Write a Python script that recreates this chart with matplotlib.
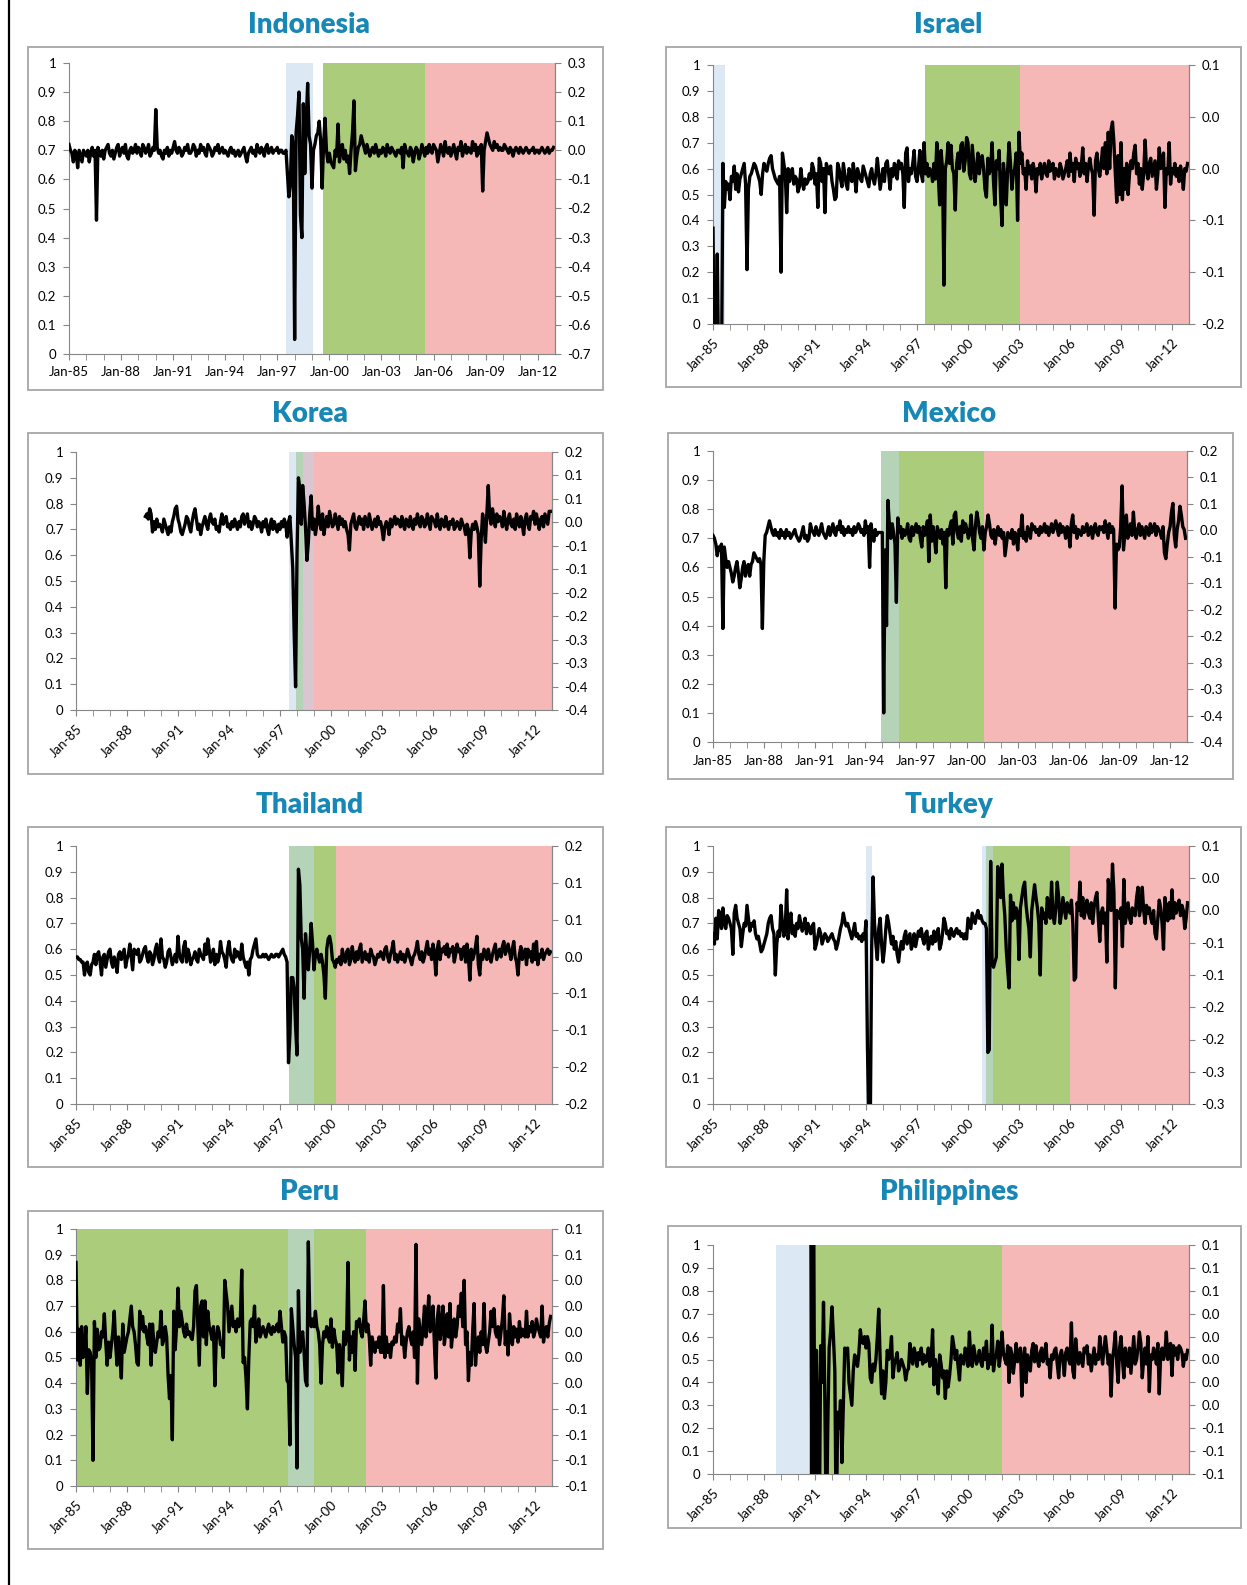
import numpy as np
import matplotlib.pyplot as plt
from matplotlib.patches import Rectangle
from matplotlib.lines import Line2D

plt.rcParams['font.family'] = ['Lato', 'DejaVu Sans']

# monthly values, in hundredths of the left axis (0..1)
indonesia_start = 1985.0
indonesia = [
    72, 70, 69, 66, 70, 69, 64, 70, 68, 66, 70, 69,
    68, 70, 66, 69, 71, 68, 70, 46, 71, 69, 68, 70,
    67, 70, 71, 72, 69, 68, 70, 67, 69, 71, 72, 68,
    70, 71, 69, 72, 68, 67, 70, 71, 69, 70, 72, 69,
    71, 70, 68, 72, 71, 69, 70, 72, 68, 69, 71, 70,
    84, 71, 69, 70, 68, 67, 70, 69, 71, 68, 70, 69,
    71, 73, 70, 69, 71, 70, 68, 69, 71, 70, 72, 69,
    69, 70, 72, 71, 68, 70, 69, 72, 70, 71, 69, 68,
    72, 71, 70, 68, 69, 71, 70, 72, 69, 70, 71, 69,
    70, 69, 68, 70, 71, 69, 70, 68, 69, 70, 68, 69,
    70, 71, 68, 66, 69, 70, 71, 69, 70, 68, 72, 70,
    69, 71, 70, 68, 71, 72, 69, 70, 71, 69, 70, 70,
    71, 69, 70, 70, 69, 69, 70, 62, 54, 58, 75, 72,
    5, 76, 82, 90, 48, 40, 86, 62, 80, 93, 75, 72,
    57, 70, 72, 75, 76, 80, 73, 57, 72, 81, 70, 66,
    69, 66, 65, 64, 70, 68, 79, 66, 70, 72, 67, 70,
    66, 68, 62, 70, 76, 87, 63, 68, 71, 72, 75, 73,
    71, 69, 72, 70, 68, 70, 71, 69, 72, 70, 68, 70,
    69, 71, 70, 68, 72, 70, 69, 71, 70, 69, 68, 70,
    70, 69, 71, 64, 72, 70, 69, 68, 71, 70, 66, 69,
    71, 70, 67, 69, 72, 70, 68, 71, 69, 72, 70, 69,
    72, 71, 70, 66, 69, 72, 70, 68, 73, 70, 69, 71,
    68, 70, 72, 69, 67, 71, 70, 73, 68, 70, 72, 69,
    71, 70, 69, 73, 70, 72, 68, 71, 69, 72, 56, 70,
    73, 76, 74, 72, 71, 70, 73, 71, 72, 70, 71, 70,
    70, 72, 71, 70, 69, 71, 70, 68, 70, 71, 70, 69,
    71, 70, 69, 70, 71, 70, 69, 70, 70, 71, 69, 70,
    70, 69, 70, 71, 70, 69, 70, 71, 69, 70, 70, 71,
]

israel_start = 1985.0
israel = [
    37, -20, -20, 27, -20, -20, -20, 62, 45, 55, 52, 54,
    48, 57, 55, 61, 52, 58, 51, 56, 58, 60, 62, 54,
    21, 52, 57, 58, 60, 62, 61, 59, 57, 55, 50, 58,
    62, 60, 59, 62, 64, 65, 60, 58, 56, 55, 54, 57,
    20, 66, 62, 58, 43, 60, 55, 58, 60, 54, 57, 56,
    51, 53, 60, 55, 52, 56, 54, 55, 58, 56, 62, 60,
    54, 58, 45, 64, 62, 55, 60, 43, 62, 60, 58, 61,
    55, 52, 48, 49, 62, 60, 56, 53, 62, 58, 54, 52,
    60, 58, 55, 62, 57, 51, 60, 58, 56, 55, 61, 59,
    57, 55, 53, 58, 60, 56, 54, 58, 64, 58, 52, 56,
    60, 55, 62, 63, 58, 52, 60, 57, 62, 61, 56, 63,
    60, 62, 58, 45, 66, 68, 55, 60, 58, 62, 67, 57,
    55, 60, 67, 58, 55, 70, 58, 62, 57, 60, 59, 55,
    62, 56, 70, 58, 46, 67, 60, 15, 60, 63, 70, 62,
    69, 60, 58, 44, 62, 66, 60, 69, 70, 59, 63, 72,
    70, 58, 56, 69, 62, 55, 60, 66, 58, 63, 65, 60,
    52, 49, 64, 58, 60, 70, 55, 46, 63, 60, 67, 49,
    38, 62, 56, 46, 60, 70, 62, 52, 58, 60, 66, 40,
    74, 62, 66, 58, 60, 52, 63, 58, 61, 56, 62, 59,
    51, 60, 58, 62, 56, 60, 62, 58, 57, 63, 59, 60,
    62, 56, 60, 58, 57, 62, 60, 56, 58, 60, 63, 57,
    66, 59, 62, 55, 64, 60, 62, 57, 61, 68, 58, 62,
    55, 61, 64, 60, 58, 42, 63, 66, 60, 57, 62, 68,
    60, 70, 58, 74, 60, 75, 78, 70, 58, 47, 65, 50,
    70, 48, 60, 52, 62, 50, 58, 63, 60, 66, 69, 58,
    62, 54, 60, 52, 58, 71, 60, 56, 62, 64, 57, 60,
    63, 52, 58, 68, 60, 62, 66, 45, 60, 58, 70, 54,
    60, 58, 62, 57, 60, 55, 61, 58, 52, 60, 59, 62,
]

korea_start = 1989.0 + 1 / 12
korea = [
    75, 76, 74, 78, 76, 69, 73, 70, 74, 71, 72,
    71, 69, 74, 72, 70, 68, 71, 69, 73, 75, 78, 79,
    74, 72, 69, 68, 70, 72, 75, 74, 71, 69, 73, 76,
    78, 74, 70, 72, 68, 71, 73, 75, 72, 70, 74, 76,
    73, 72, 74, 70, 71, 69, 73, 76, 72, 74, 75, 71,
    72, 70, 73, 71, 74, 72, 70, 73, 71, 75, 76, 72,
    74, 76, 71, 73, 70, 72, 75, 74, 71, 73, 72, 69,
    73, 71, 74, 70, 68, 72, 74, 70, 73, 71, 69, 72,
    70, 73, 71, 74, 72, 67, 73, 75, 65, 55, 30, 9,
    60, 90, 86, 72, 87, 80, 71, 58, 65, 76, 83, 70,
    74, 68, 72, 79, 73, 70, 76, 68, 72, 75, 71, 77,
    74, 71, 72, 76, 73, 70, 75, 72, 74, 71, 73, 70,
    68, 62, 72, 74, 76, 71, 70, 73, 75, 72, 74, 70,
    75, 73, 71, 76, 73, 70, 72, 74, 71, 75, 72, 73,
    70, 66, 71, 73, 72, 68, 74, 71, 73, 75, 72, 74,
    73, 71, 75, 72, 70, 74, 73, 71, 75, 72, 70, 74,
    72, 76, 73, 71, 75, 74, 71, 72, 76, 73, 70, 75,
    74, 73, 71, 76, 72, 70, 74, 73, 71, 75, 72, 70,
    73, 72, 74, 70, 71, 73, 72, 70, 74, 72, 71, 68,
    72, 70, 59, 69, 72, 70, 73, 71, 68, 48, 66, 76,
    72, 65, 76, 87, 75, 72, 78, 74, 71, 76, 73, 75,
    74, 71, 77, 73, 70, 74, 76, 72, 71, 74, 70, 76,
    73, 71, 75, 72, 68, 74, 76, 72, 70, 75, 74, 77,
    72, 76, 73, 70, 74, 75, 71, 76, 74, 72, 77, 77,
]

mexico_start = 1985.0
mexico = [
    71, 70, 68, 64, 67, 66, 68, 39, 67, 63, 60, 62,
    60, 58, 55, 57, 60, 62, 58, 53, 56, 60, 62, 57,
    60, 61, 57, 61, 62, 65, 64, 63, 62, 63, 61, 39,
    62, 71, 72, 74, 76, 74, 72, 71, 73, 71, 72, 70,
    73, 71, 72, 70, 73, 71, 72, 70, 71, 72, 73, 71,
    70, 69, 70, 72, 74, 70, 71, 69, 70, 75, 73, 72,
    71, 74, 72, 71, 73, 75, 72, 71, 70, 72, 74, 71,
    73, 75, 72, 71, 74, 73, 76, 72, 74, 71, 73, 72,
    74, 72, 73, 71, 74, 72, 73, 75, 74, 72, 73, 71,
    76, 72, 74, 60, 75, 71, 69, 73, 71, 72, 72, 72,
    72, 10, 66, 40, 83, 75, 70, 75, 72, 68, 48, 77,
    72, 74, 70, 73, 71, 72, 75, 70, 69, 74, 71, 73,
    75, 72, 74, 70, 67, 74, 71, 73, 76, 62, 78, 69,
    74, 70, 65, 74, 72, 70, 73, 68, 72, 53, 73, 71,
    74, 76, 68, 78, 79, 72, 70, 74, 69, 76, 72, 75,
    73, 70, 72, 78, 70, 66, 74, 79, 76, 72, 70, 74,
    66, 72, 74, 78, 75, 71, 70, 73, 68, 72, 74, 71,
    73, 70, 72, 64, 68, 72, 71, 70, 73, 68, 72, 71,
    66, 73, 71, 78, 70, 72, 69, 74, 72, 70, 75, 73,
    74, 72, 73, 71, 74, 72, 73, 75, 72, 74, 71, 73,
    75, 72, 74, 76, 73, 71, 75, 72, 74, 73, 70, 74,
    73, 67, 75, 78, 72, 74, 70, 73, 72, 71, 74, 72,
    73, 75, 71, 72, 74, 70, 73, 75, 72, 71, 74, 73,
    74, 72, 76, 73, 70, 75, 72, 74, 73, 46, 68, 66,
    67, 74, 88, 66, 72, 78, 70, 73, 75, 71, 79, 72,
    70, 73, 75, 71, 74, 72, 70, 74, 73, 71, 75, 72,
    73, 75, 71, 74, 73, 72, 70, 74, 65, 63, 68, 72,
    74, 79, 82, 71, 67, 73, 76, 81, 78, 74, 73, 70,
]

thailand_start = 1985.0
thailand = [
    57, 57, 56, 56, 55, 55, 50, 54, 55, 51, 50, 54,
    55, 58, 54, 58, 59, 55, 50, 57, 58, 53, 56, 59,
    60, 55, 53, 57, 55, 51, 58, 59, 56, 58, 60, 53,
    56, 58, 62, 57, 52, 60, 59, 58, 60, 55, 56, 58,
    60, 61, 57, 55, 59, 58, 54, 56, 60, 62, 57, 55,
    64, 57, 56, 53, 55, 59, 60, 57, 54, 56, 58, 55,
    65, 58, 56, 55, 61, 63, 55, 60, 58, 54, 56, 57,
    59, 56, 55, 60, 58, 57, 56, 62, 58, 64, 60, 55,
    57, 60, 54, 58, 55, 57, 63, 59, 58, 56, 53, 60,
    63, 58, 56, 55, 60, 57, 59, 58, 56, 62, 57, 55,
    53, 55, 50, 56, 57, 60, 62, 64, 58, 57, 57, 57,
    58, 57, 58, 57, 56, 57, 58, 57, 57, 58, 58, 57,
    58, 59, 60, 58, 57, 55, 16, 27, 49, 49, 45, 30,
    19, 91, 85, 64, 60, 41, 66, 58, 52, 60, 70, 62,
    52, 58, 60, 57, 55, 58, 55, 50, 41, 60, 64, 65,
    62, 56, 55, 53, 56, 55, 57, 54, 60, 56, 55, 59,
    60, 54, 56, 61, 57, 55, 59, 56, 60, 62, 55, 57,
    59, 56, 58, 55, 60, 58, 57, 54, 56, 58, 57, 59,
    58, 56, 60, 61, 57, 55, 58, 60, 63, 56, 58, 55,
    57, 59, 56, 58, 55, 57, 60, 58, 56, 54, 57, 58,
    60, 63, 58, 56, 59, 55, 57, 60, 63, 58, 60, 56,
    62, 58, 50, 60, 63, 56, 60, 59, 61, 58, 62, 57,
    60, 59, 61, 55, 58, 62, 59, 60, 56, 60, 61, 55,
    62, 57, 48, 60, 56, 58, 61, 65, 54, 50, 58, 56,
    60, 58, 56, 60, 57, 55, 58, 60, 62, 56, 58, 60,
    57, 61, 63, 58, 60, 62, 59, 56, 60, 63, 57, 55,
    50, 58, 61, 56, 58, 60, 54, 60, 57, 59, 55, 62,
    56, 63, 54, 58, 57, 60, 56, 58, 59, 60, 58, 59,
]

turkey_start = 1985.0
turkey = [
    66, 62, 72, 64, 75, 73, 68, 76, 70, 68, 73, 72,
    70, 68, 58, 74, 77, 72, 70, 68, 61, 66, 70, 69,
    77, 72, 67, 70, 69, 71, 66, 64, 65, 62, 59, 60,
    62, 64, 66, 70, 72, 73, 68, 66, 50, 62, 67, 65,
    77, 70, 65, 68, 83, 64, 70, 74, 66, 69, 65, 70,
    68, 73, 70, 67, 69, 72, 66, 70, 68, 66, 69, 70,
    60, 62, 65, 68, 66, 62, 64, 66, 65, 63, 64, 65,
    66, 64, 63, 60, 62, 65, 68, 70, 74, 71, 69, 70,
    68, 66, 64, 67, 70, 65, 66, 64, 65, 63, 66, 64,
    71, 23, -10, -10, 60, 88, 70, 62, 56, 68, 72, 62,
    55, 60, 68, 73, 70, 66, 62, 65, 60, 63, 58, 55,
    60, 63, 60, 65, 67, 62, 64, 66, 60, 62, 66, 61,
    64, 67, 65, 68, 64, 62, 66, 67, 60, 63, 65, 62,
    67, 63, 65, 68, 60, 62, 66, 72, 70, 66, 67, 64,
    68, 66, 65, 67, 68, 66, 67, 65, 66, 64, 66, 64,
    72, 70, 68, 74, 72, 70, 73, 75, 72, 73, 71, 70,
    70, 68, 20, 21, 94, 55, 53, 55, 57, 92, 85, 80,
    93, 80, 73, 60, 52, 45, 81, 71, 78, 72, 76, 74,
    56, 76, 80, 84, 86, 77, 72, 68, 57, 75, 80, 85,
    80, 76, 70, 50, 76, 72, 74, 70, 80, 75, 72, 86,
    73, 70, 76, 86, 80, 70, 74, 80, 76, 72, 78, 76,
    74, 79, 70, 48, 49, 78, 75, 86, 73, 80, 72, 76,
    79, 74, 72, 78, 70, 76, 80, 82, 72, 63, 74, 76,
    70, 74, 55, 87, 80, 75, 93, 82, 45, 75, 74, 72,
    76, 61, 87, 70, 74, 78, 72, 70, 76, 74, 73, 80,
    84, 73, 76, 84, 75, 70, 77, 74, 76, 72, 70, 75,
    66, 64, 72, 79, 76, 70, 60, 80, 74, 71, 78, 72,
    83, 72, 78, 74, 77, 79, 73, 77, 75, 68, 72, 78,
]

peru_start = 1985.0
peru = [
    87, 49, 61, 47, 62, 50, 53, 62, 36, 53, 52, 48,
    10, 64, 50, 61, 53, 54, 60, 58, 67, 56, 47, 56,
    50, 55, 60, 68, 55, 47, 58, 52, 42, 63, 52, 55,
    58, 60, 65, 70, 62, 60, 55, 48, 47, 68, 61, 66,
    60, 62, 58, 55, 63, 47, 63, 55, 52, 56, 60, 58,
    68, 55, 57, 62, 58, 43, 34, 43, 18, 68, 53, 62,
    77, 62, 68, 64, 60, 58, 63, 59, 60, 58, 57, 62,
    76, 78, 62, 47, 70, 72, 58, 72, 55, 68, 62, 60,
    57, 62, 39, 57, 62, 60, 55, 56, 50, 80, 75, 70,
    60, 65, 70, 62, 64, 60, 65, 62, 65, 84, 48, 50,
    42, 30, 50, 64, 65, 62, 70, 56, 60, 65, 58, 60,
    62, 60, 58, 61, 63, 60, 59, 62, 60, 61, 63, 60,
    68, 62, 56, 60, 58, 41, 40, 16, 69, 62, 55, 50,
    7, 76, 52, 57, 60, 52, 41, 39, 95, 66, 62, 65,
    62, 68, 62, 60, 55, 40, 55, 60, 58, 62, 58, 56,
    65, 54, 61, 57, 55, 44, 55, 50, 39, 60, 55, 58,
    87, 49, 58, 52, 60, 45, 64, 62, 65, 60, 58, 64,
    72, 60, 63, 58, 47, 58, 55, 52, 56, 54, 58, 52,
    52, 78, 50, 58, 52, 55, 50, 56, 55, 58, 56, 63,
    60, 69, 55, 58, 50, 56, 60, 62, 58, 55, 60, 50,
    94, 40, 65, 60, 55, 62, 70, 58, 65, 74, 60, 62,
    70, 55, 42, 65, 70, 57, 62, 70, 55, 60, 67, 58,
    71, 54, 60, 65, 58, 62, 70, 66, 75, 62, 80, 55,
    60, 41, 52, 47, 60, 71, 47, 55, 58, 52, 60, 55,
    71, 55, 52, 56, 60, 68, 62, 69, 60, 58, 62, 55,
    60, 65, 74, 55, 60, 51, 67, 60, 55, 62, 58, 61,
    56, 64, 58, 61, 60, 58, 68, 58, 62, 60, 64, 58,
    60, 65, 62, 60, 58, 70, 56, 60, 62, 58, 63, 66,
]

philippines_start = 1990.0 + 9 / 12
philippines = [
    130, -40, 130,
    -30, 54, 20, -30, 56, 40, 75, 30, -30, 20, 55, 62,
    73, 60, 45, -30, 27, 20, 32, 5, 30, 55, 53, 55,
    40, 35, 30, 45, 52, 50, 47, 53, 63, 58, 57, 60,
    55, 60, 57, 42, 40, 48, 45, 50, 60, 72, 50, 35,
    45, 33, 40, 54, 50, 53, 60, 42, 48, 50, 53, 45,
    47, 50, 48, 46, 41, 45, 46, 57, 50, 48, 55, 52,
    47, 53, 50, 55, 48, 52, 49, 50, 55, 47, 50, 63,
    39, 50, 45, 35, 52, 48, 42, 45, 33, 45, 38, 43,
    50, 60, 56, 50, 54, 47, 41, 52, 49, 48, 55, 53,
    47, 62, 50, 47, 56, 52, 48, 50, 54, 49, 47, 55,
    50, 58, 46, 52, 48, 65, 45, 50, 52, 58, 47, 52,
    62, 53, 50, 48, 56, 40, 55, 52, 44, 50, 57, 49,
    52, 55, 34, 50, 55, 40, 52, 48, 45, 54, 57, 49,
    56, 50, 47, 53, 55, 49, 52, 57, 48, 50, 42, 52,
    50, 54, 55, 48, 42, 52, 54, 50, 43, 53, 55, 50,
    48, 66, 45, 42, 59, 52, 48, 53, 50, 47, 55, 53,
    56, 48, 52, 45, 50, 55, 48, 52, 50, 60, 53, 48,
    55, 60, 54, 48, 52, 34, 50, 55, 62, 48, 40, 55,
    60, 50, 42, 55, 50, 47, 55, 44, 52, 60, 48, 50,
    55, 62, 57, 42, 50, 55, 48, 60, 36, 52, 50, 55,
    52, 48, 57, 35, 52, 55, 50, 53, 62, 50, 56, 57,
    43, 56, 52, 55, 50, 56, 55, 53, 47, 52, 50, 54,
]

# shaded regimes: (from, to, kind)
indonesia_bands = [(1997.49, 1999.04, 'blue'), (1999.64, 2005.51, 'green'), (2005.51, 2013, 'pink')]
israel_bands = [(1985.0, 1985.7, 'blue'), (1997.48, 2003.07, 'green'), (2003.07, 2013, 'pink')]
korea_bands = [(1997.54, 1997.96, 'blue'), (1997.96, 1998.37, 'grey_green'),
               (1998.37, 1999.0, 'mauve'), (1999.0, 2013, 'pink')]
mexico_bands = [(1994.95, 1996.0, 'grey_green'), (1996.0, 2001.0, 'green'), (2001.0, 2013, 'pink')]
thailand_bands = [(1997.54, 1999.0, 'grey_green'), (1999.0, 2000.32, 'green'), (2000.32, 2013, 'pink')]
turkey_bands = [(1994.0, 1994.36, 'blue'), (2000.84, 2001.07, 'blue'), (2001.07, 2001.47, 'grey_green'),
                (2001.47, 2006.0, 'green'), (2006.0, 2013, 'pink')]
peru_bands = [(1985.0, 1997.48, 'green'), (1997.48, 1999.0, 'grey_green'),
              (1999.0, 2002.03, 'green'), (2002.03, 2013, 'pink')]
philippines_bands = [(1988.68, 1990.63, 'blue'), (1990.63, 2002.0, 'green'), (2002.0, 2013, 'pink')]

# right-axis labels, top to bottom
indonesia_right = ['0.3', '0.2', '0.1', '0.0', '-0.1', '-0.2', '-0.3', '-0.4', '-0.5', '-0.6', '-0.7']
israel_right = ['0.1', '0.0', '0.0', '-0.1', '-0.1', '-0.2']
korea_right = ['0.2', '0.1', '0.1', '0.0', '-0.1', '-0.1', '-0.2', '-0.2', '-0.3', '-0.3', '-0.4', '-0.4']
mexico_right = ['0.2', '0.1', '0.1', '0.0', '-0.1', '-0.1', '-0.2', '-0.2', '-0.3', '-0.3', '-0.4', '-0.4']
thailand_right = ['0.2', '0.1', '0.1', '0.0', '-0.1', '-0.1', '-0.2', '-0.2']
turkey_right = ['0.1', '0.0', '0.0', '-0.1', '-0.1', '-0.2', '-0.2', '-0.3', '-0.3']
peru_right = ['0.1', '0.1', '0.0', '0.0', '0.0', '0.0', '0.0', '-0.1', '-0.1', '-0.1', '-0.1']
philippines_right = ['0.1', '0.1', '0.1', '0.0', '0.0', '0.0', '0.0', '0.0', '-0.1', '-0.1', '-0.1']

year_ticks = list(range(1985, 2013, 3))
year_labels = ['Jan-%02d' % (y % 100) for y in year_ticks]

band_colors = {'blue': '#dce9f5', 'green': '#abcd7b', 'pink': '#f5b8b6',
               'grey_green': '#b5d3b7', 'mauve': '#d9c6d0'}
title_color = '#1788b5'
axis_color = '#868686'

W, H = 1247, 1585
fig = plt.figure(figsize=(W / 100, H / 100), dpi=100)
fig.add_artist(Line2D([8.5 / W, 8.5 / W], [0, 1], color='black', lw=1.6,
                      transform=fig.transFigure))


def panel(title, title_xy, box, area, start, values, bands, right_labels, rotate):
    bx0, by0, bx1, by1 = box
    fig.patches.append(Rectangle((bx0 / W, 1 - by1 / H), (bx1 - bx0) / W, (by1 - by0) / H,
                                 transform=fig.transFigure, fill=False,
                                 ec='#a6a6a6', lw=1.3))
    fig.text(title_xy[0] / W, 1 - title_xy[1] / H, title, color=title_color,
             fontsize=20, fontweight='heavy', ha='center', va='center')
    l, t, r, b = area
    ax = fig.add_axes([l / W, 1 - b / H, (r - l) / W, (b - t) / H])
    for s, e, kind in bands:
        ax.axvspan(s, e, color=band_colors[kind], lw=0, zorder=0)
    x = start + np.arange(len(values)) / 12
    ax.plot(x, np.array(values) / 100, color='black', lw=2.4, zorder=3)
    ax.set_xlim(1985, 2013)
    ax.set_ylim(0, 1)
    ax.set_yticks(np.arange(0, 1.01, 0.1))
    ax.set_yticklabels(['0'] + ['%.1f' % v for v in np.arange(0.1, 0.95, 0.1)] + ['1'])
    ax.set_xticks(year_ticks)
    ax.set_xticks(range(1985, 2013), minor=True)
    if rotate:
        ax.set_xticklabels(year_labels, rotation=45, ha='right', rotation_mode='anchor')
    else:
        ax.set_xticklabels(year_labels)
    ax.tick_params(which='both', direction='out', length=4, color=axis_color,
                   labelsize=9.5, pad=5)
    for side in ['left', 'bottom', 'right']:
        ax.spines[side].set_color(axis_color)
    ax.spines['top'].set_visible(False)
    ax2 = ax.twinx()
    ax2.set_ylim(0, 1)
    ax2.set_yticks(np.linspace(0, 1, len(right_labels)))
    ax2.set_yticklabels(right_labels[::-1])
    ax2.tick_params(direction='out', length=4, color=axis_color, labelsize=9.5, pad=5)
    ax2.spines['right'].set_color(axis_color)
    ax2.spines['top'].set_visible(False)
    ax2.spines['left'].set_visible(False)
    ax2.spines['bottom'].set_visible(False)


panel('Indonesia', (309, 25), (28, 47, 603, 390), (69, 63, 555, 354),
      indonesia_start, indonesia, indonesia_bands, indonesia_right, False)
panel('Israel', (948, 25), (666, 47, 1241, 387), (713, 65, 1189, 324),
      israel_start, israel, israel_bands, israel_right, True)
panel('Korea', (310, 414), (28, 433, 603, 774), (76, 452, 552, 710),
      korea_start, korea, korea_bands, korea_right, True)
panel('Mexico', (949, 414), (668, 433, 1233, 779), (713, 451, 1187, 742),
      mexico_start, mexico, mexico_bands, mexico_right, False)
panel('Thailand', (310, 805), (28, 827, 603, 1167), (76, 846, 552, 1104),
      thailand_start, thailand, thailand_bands, thailand_right, True)
panel('Turkey', (949, 805), (666, 827, 1241, 1167), (713, 846, 1189, 1104),
      turkey_start, turkey, turkey_bands, turkey_right, True)
panel('Peru', (310, 1192), (28, 1211, 603, 1549), (76, 1229, 552, 1486),
      peru_start, peru, peru_bands, peru_right, True)
panel('Philippines', (949, 1192), (668, 1226, 1241, 1528), (713, 1245, 1189, 1474),
      philippines_start, philippines, philippines_bands, philippines_right, True)

fig.savefig('out.png', dpi=100)
